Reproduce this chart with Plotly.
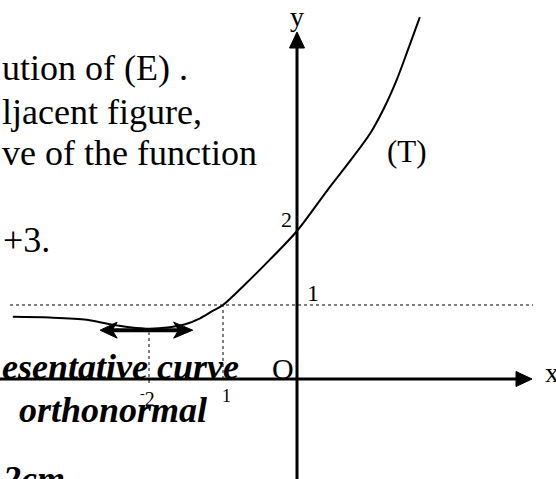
import plotly.graph_objects as go

# Sketched curve (T) in the orthonormal frame (unit = 2 cm)
curve_x = [-3.84, -3.34, -2.84, -2.53, -2.26, -1.99, -1.72, -1.51, -1.31, -1.14,
           -1.00, -0.70, -0.36, 0.00, 0.41, 0.72, 0.99, 1.19, 1.35, 1.50, 1.66]
curve_y = [0.84, 0.83, 0.80, 0.74, 0.70, 0.68, 0.70, 0.74, 0.82, 0.92,
           1.00, 1.28, 1.62, 2.00, 2.55, 2.95, 3.32, 3.69, 4.05, 4.45, 4.89]

# Horizontal tangent at the minimum
tangent_x = [-2.66, -1.41]
tangent_y = [0.66, 0.66]

# Tick labels written on the figure
tick_labels = {"x": [(-2.0, "<sup>-</sup>2"), (-1.0, "1")], "y": [(1.0, "1"), (2.0, "2")]}

SERIF = "Liberation Serif, Times New Roman, serif"
BLACK = "black"

# pixel -> data helpers (74 px per unit, origin at pixel (297, 379))
W, H = 556, 479
OX, OY, U = 297, 379, 74.0


def dx(px):
    return (px - OX) / U


def dy(py):
    return (OY - py) / U


def head(tx, ty, ux, uy, length=16, half=7, notch=4):
    """Filled, swept-back arrow head with its tip at (tx, ty) pointing along (ux, uy)."""
    l, w, n = length / U, half / U, notch / U
    px_, py_ = -uy, ux
    bx, by = tx - ux * l, ty - uy * l
    nx, ny = tx - ux * (l - n), ty - uy * (l - n)
    return dict(type="path",
                path=(f"M {tx},{ty} L {bx + px_ * w},{by + py_ * w} "
                      f"L {nx},{ny} L {bx - px_ * w},{by - py_ * w} Z"),
                fillcolor=BLACK, line=dict(color=BLACK, width=1))


fig = go.Figure()

# the curve (T)
fig.add_trace(go.Scatter(x=curve_x, y=curve_y, mode="lines",
                         line=dict(color=BLACK, width=2, shape="spline", smoothing=0.9),
                         hoverinfo="skip"))

shapes = []
# dotted guides
shapes.append(dict(type="line", x0=dx(10), x1=dx(533), y0=1, y1=1,
                   line=dict(color=BLACK, width=1, dash="dot")))
shapes.append(dict(type="line", x0=-1, x1=-1, y0=0, y1=1,
                   line=dict(color=BLACK, width=1, dash="dot")))
shapes.append(dict(type="line", x0=-2, x1=-2, y0=dy(383), y1=tangent_y[0] - 0.03,
                   line=dict(color=BLACK, width=1, dash="dot")))

# axes
shapes.append(dict(type="line", x0=dx(0), x1=dx(518), y0=0, y1=0,
                   line=dict(color=BLACK, width=3)))
shapes.append(dict(type="line", x0=0, x1=0, y0=dy(H), y1=dy(46),
                   line=dict(color=BLACK, width=3)))
# arrow heads of the axes
xt, yt = dx(532), dy(32)
L, h = 16 / U, 7.5 / U
shapes.append(dict(type="path",
                   path=f"M {xt},0 L {xt - L},{h} L {xt - L},{-h} Z",
                   fillcolor=BLACK, line=dict(color=BLACK, width=1)))
shapes.append(dict(type="path",
                   path=f"M 0,{yt} L {h},{yt - L} L {-h},{yt - L} Z",
                   fillcolor=BLACK, line=dict(color=BLACK, width=1)))

# double arrow along the horizontal tangent at the minimum
shapes.append(dict(type="line", x0=tangent_x[0] + 10 / U, x1=tangent_x[1] - 10 / U,
                   y0=tangent_y[0], y1=tangent_y[1], line=dict(color=BLACK, width=4)))
shapes.append(head(tangent_x[1], tangent_y[1], 1, 0, length=19, half=8, notch=5))
shapes.append(head(tangent_x[0], tangent_y[0], -1, 0, length=17, half=8, notch=5))

annotations = []


def label(x, y, text, size, xanchor="center", yanchor="middle", bold=False, italic=False):
    t = text
    if bold:
        t = f"<b>{t}</b>"
    if italic:
        t = f"<i>{t}</i>"
    annotations.append(dict(x=x, y=y, xref="x", yref="y", text=t, showarrow=False,
                            xanchor=xanchor, yanchor=yanchor,
                            font=dict(family=SERIF, size=size, color=BLACK)))


# prose fragments
label(dx(0), dy(68), "ution of (E) .", 36, "left")
label(dx(0), dy(112), "ljacent figure,", 36, "left")
label(dx(0), dy(153), "ve of the function", 36, "left")
label(dx(1), dy(240), "+3.", 36, "left")
label(dx(0), dy(367), "esentative curve", 36, "left", bold=True, italic=True)
label(dx(17), dy(410), "orthonormal", 36, "left", bold=True, italic=True)
label(dx(0), dy(457), "2cm", 36, "left", "top", bold=True, italic=True)

# axis names, origin and curve name
label(dx(297), dy(16), "y", 28)
label(dx(543), dy(372), "x", 28, "left")
label(dx(283), dy(368), "O", 30)
label(dx(407), dy(151), "(T)", 31)

# tick labels
label(dx(147), dy(398), tick_labels["x"][0][1], 20)
label(dx(226), dy(396), tick_labels["x"][1][1], 18)
label(dx(313), dy(293), tick_labels["y"][0][1], 24)
label(dx(286), dy(219), tick_labels["y"][1][1], 22)

fig.update_layout(
    width=W, height=H, margin=dict(l=0, r=0, t=0, b=0),
    paper_bgcolor="white", plot_bgcolor="white", showlegend=False,
    xaxis=dict(range=[dx(0), dx(W)], visible=False, fixedrange=True),
    yaxis=dict(range=[dy(H), dy(0)], visible=False, fixedrange=True),
    shapes=shapes, annotations=annotations,
)

fig.write_html("out.html")
